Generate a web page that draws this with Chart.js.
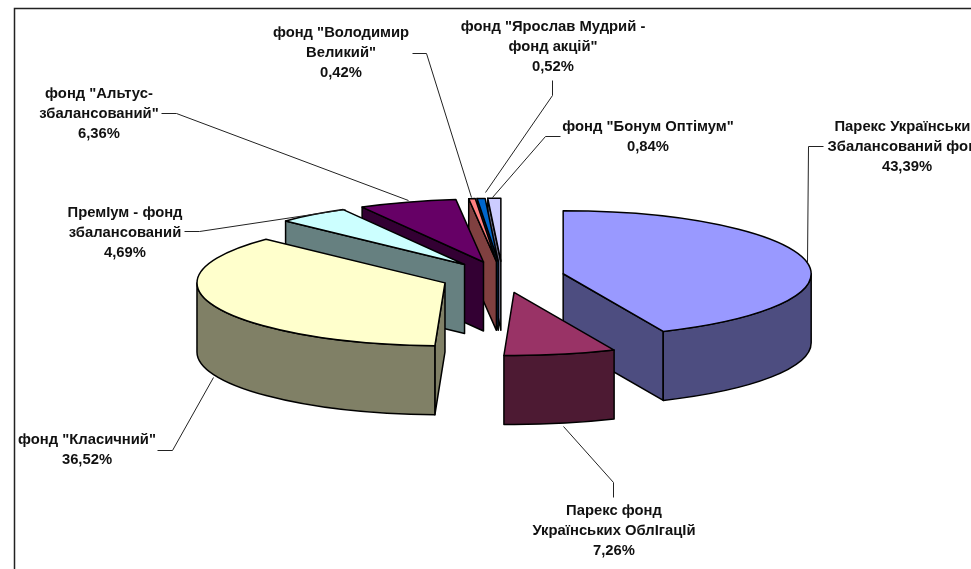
<!DOCTYPE html>
<html lang="uk">
<head>
  <meta charset="UTF-8" />
  <title>Структура фондів</title>
  <style>
    html, body { margin: 0; padding: 0; background: #fff; overflow: hidden; }
    canvas { display: block; }
  </style>
  <script src="https://cdn.jsdelivr.net/npm/chart.js"></script>
</head>
<body>
  <canvas id="pieChart" width="971" height="569"></canvas>

  <script>
    const fundLabels = [
      ["Парекс Український", "Збалансований фонд"],
      ["Парекс фонд", "Українських ОблІгацІй"],
      ['фонд "Класичний"'],
      ["ПремІум - фонд", "збалансований"],
      ['фонд "Альтус-', 'збалансований"'],
      ['фонд "Володимир', 'Великий"'],
      ['фонд "Ярослав Мудрий -', 'фонд акцій"'],
      ['фонд "Бонум Оптімум"'],
    ];
    const fundShares = [43.39, 7.26, 36.52, 4.69, 6.36, 0.42, 0.52, 0.84];
    const topColors = ["#9999FF", "#993366", "#FFFFCC", "#CCFFFF", "#660066", "#FF8080", "#0066CC", "#CCCCFF"];
    const wallColors = ["#4D4D80", "#4D1A33", "#808066", "#668080", "#330033", "#804040", "#003366", "#666680"];

    // tilt of the pie, thickness of the side wall, how far slices are pulled out
    const TILT = 0.254;
    const DEPTH = 69;
    const EXPLODE = 62;

    // where each label goes: centre x, first line y, then the leader line
    const labelLayout = [
      { x: 907, y: 126.5, line: [[823, 146], [808, 146], [807, 262]] },
      { x: 614, y: 510.5, line: [[613, 497], [613, 482], [563, 426]] },
      { x: 87, y: 439.5, line: [[157, 450], [172, 450], [213, 377]] },
      { x: 125, y: 212.5, line: [[184, 231], [199, 231], [345, 209]] },
      { x: 99, y: 93.5, line: [[161, 113], [176, 113], [408, 200]] },
      { x: 341, y: 32.5, line: [[412, 53], [426, 53], [471, 197]] },
      { x: 553, y: 26.5, line: [[552, 80], [552, 95], [485, 192]] },
      { x: 648, y: 126.5, line: [[560, 136], [545, 136], [492, 197]] },
    ];

    function pieCentreY(chart) {
      return (chart.chartArea.top + chart.chartArea.bottom) / 2;
    }

    function screenY(chart, y) {
      const cy = pieCentreY(chart);
      return cy + (y - cy) * TILT;
    }

    function drawRadialWall(ctx, chart, arc, angle, color) {
      const rimX = arc.x + Math.cos(angle) * arc.outerRadius;
      const rimY = screenY(chart, arc.y + Math.sin(angle) * arc.outerRadius);
      const apexY = screenY(chart, arc.y);
      ctx.beginPath();
      ctx.moveTo(arc.x, apexY);
      ctx.lineTo(rimX, rimY);
      ctx.lineTo(rimX, rimY + DEPTH);
      ctx.lineTo(arc.x, apexY + DEPTH);
      ctx.closePath();
      ctx.fillStyle = color;
      ctx.fill();
      ctx.stroke();
    }

    function drawRimWall(ctx, chart, arc, color) {
      const from = Math.max(arc.startAngle, 0);
      const to = Math.min(arc.endAngle, Math.PI);
      if (to <= from) return;
      const cy = screenY(chart, arc.y);
      const ry = arc.outerRadius * TILT;
      ctx.beginPath();
      ctx.ellipse(arc.x, cy, arc.outerRadius, ry, 0, from, to);
      ctx.ellipse(arc.x, cy + DEPTH, arc.outerRadius, ry, 0, to, from, true);
      ctx.closePath();
      ctx.fillStyle = color;
      ctx.fill();
      ctx.stroke();
    }

    const pie3d = {
      id: "pie3d",
      afterDatasetsUpdate(chart) {
        // pull every slice out along its own middle angle
        chart.getDatasetMeta(0).data.forEach((arc) => {
          const mid = (arc.startAngle + arc.endAngle) / 2;
          arc.x += Math.cos(mid) * EXPLODE;
          arc.y += Math.sin(mid) * EXPLODE;
        });
      },
      beforeDraw(chart) {
        const ctx = chart.ctx;
        ctx.save();
        ctx.strokeStyle = "#222";
        ctx.lineWidth = 1.5;
        ctx.beginPath();
        ctx.moveTo(14.5, 569);
        ctx.lineTo(14.5, 8.5);
        ctx.lineTo(971, 8.5);
        ctx.stroke();
        ctx.restore();
      },
      beforeDatasetsDraw(chart) {
        const ctx = chart.ctx;
        const slices = chart.getDatasetMeta(0).data.map((arc, i) => ({ arc, i }));
        // back to front, by how far down the screen the apex sits
        slices.sort((a, b) => a.arc.y - b.arc.y);

        ctx.save();
        ctx.strokeStyle = "#000";
        ctx.lineWidth = 1.5;
        ctx.lineJoin = "round";
        slices.forEach(({ arc, i }) => {
          if (Math.cos(arc.startAngle) < 0) drawRadialWall(ctx, chart, arc, arc.startAngle, wallColors[i]);
          if (Math.cos(arc.endAngle) > 0) drawRadialWall(ctx, chart, arc, arc.endAngle, wallColors[i]);
          drawRimWall(ctx, chart, arc, wallColors[i]);
        });
        ctx.restore();

        // squash the library's own arcs into the tilted plane
        const cy = pieCentreY(chart);
        ctx.save();
        ctx.translate(0, cy);
        ctx.scale(1, TILT);
        ctx.translate(0, -cy);
      },
      afterDatasetsDraw(chart) {
        const ctx = chart.ctx;
        ctx.restore();

        ctx.save();
        ctx.strokeStyle = "#000";
        ctx.lineWidth = 1.5;
        ctx.lineJoin = "round";
        chart.getDatasetMeta(0).data.forEach((arc) => {
          const apexY = screenY(chart, arc.y);
          ctx.beginPath();
          ctx.moveTo(arc.x, apexY);
          ctx.ellipse(arc.x, apexY, arc.outerRadius, arc.outerRadius * TILT, 0, arc.startAngle, arc.endAngle);
          ctx.closePath();
          ctx.stroke();
        });
        ctx.restore();

        // leader lines, then labels
        ctx.save();
        ctx.strokeStyle = "#222";
        ctx.lineWidth = 1;
        labelLayout.forEach((l) => {
          ctx.beginPath();
          l.line.forEach((pt, i) => {
            if (i === 0) ctx.moveTo(pt[0] + 0.5, pt[1] + 0.5);
            else ctx.lineTo(pt[0] + 0.5, pt[1] + 0.5);
          });
          ctx.stroke();
        });
        ctx.fillStyle = "#111";
        ctx.font = 'bold 14.8px "Liberation Sans", Arial, sans-serif';
        ctx.textAlign = "center";
        ctx.textBaseline = "middle";
        fundLabels.forEach((lines, i) => {
          const l = labelLayout[i];
          const text = lines.concat(fundShares[i].toFixed(2).replace(".", ",") + "%");
          text.forEach((t, n) => ctx.fillText(t, l.x, l.y + n * 20));
        });
        ctx.restore();
      },
    };

    new Chart(document.getElementById("pieChart"), {
      type: "pie",
      data: {
        labels: fundLabels.map((l) => l.join(" ")),
        datasets: [
          {
            data: fundShares,
            backgroundColor: topColors,
            borderWidth: 0,
            clip: false,
          },
        ],
      },
      options: {
        responsive: false,
        animation: false,
        radius: 248,
        layout: { padding: { left: 34, bottom: 15 } },
        plugins: { legend: { display: false }, tooltip: { enabled: false } },
      },
      plugins: [pie3d],
    });
  </script>
</body>
</html>
